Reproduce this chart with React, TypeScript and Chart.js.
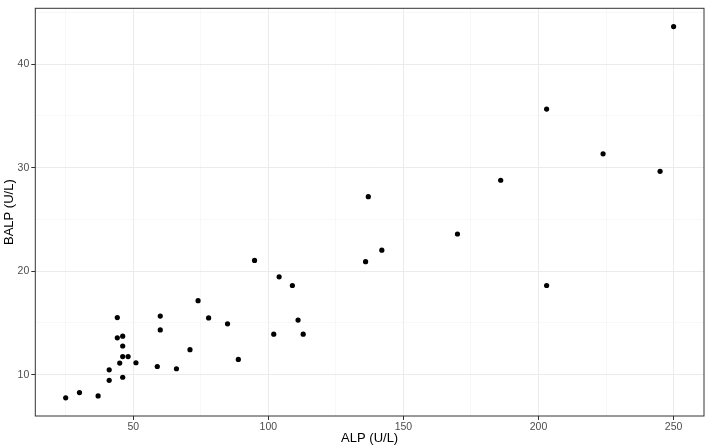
import React, { useEffect, useRef } from 'react';
import Chart from 'chart.js/auto';

const alp = [
  25.0, 30.1, 37.0, 41.1, 41.1, 44.1, 44.1, 46.1, 46.1, 46.1, 48.1, 45.0, 46.1, 51.0,
  58.9, 60.0, 60.0, 66.0, 71.0, 74.0, 77.9, 84.9, 88.9, 94.9, 104.0, 108.9, 111.0,
  102.0, 112.9, 137.0, 142.0, 136.0, 170.0, 250.0, 203.0, 223.9, 245.0, 186.0, 203.0,
];
const balp = [
  7.77, 8.28, 7.96, 10.48, 9.46, 15.52, 13.57, 13.73, 12.78, 11.76, 11.76, 11.13, 9.76, 11.16,
  10.8, 15.67, 14.33, 10.58, 12.42, 17.15, 15.49, 14.92, 11.48, 21.04, 19.46, 18.62, 15.28,
  13.92, 13.92, 27.19, 22.03, 20.92, 23.59, 43.62, 35.65, 31.33, 29.64, 28.78, 18.62,
];

const xMajor = [50, 100, 150, 200, 250];
const xMinor = [25, 75, 125, 175, 225];
const yMajor = [10, 20, 30, 40];
const yMinor = [15, 25, 35, 45];

const FONT = '"Liberation Sans", Arial, sans-serif';

const panelBorder = {
  id: 'panelBorder',
  beforeDatasetsDraw(chart: Chart) {
    const { ctx, chartArea } = chart;
    ctx.save();
    ctx.strokeStyle = '#333333';
    ctx.lineWidth = 1;
    ctx.strokeRect(chartArea.left, chartArea.top, chartArea.right - chartArea.left, chartArea.bottom - chartArea.top);
    ctx.restore();
  },
};

const gridOpts = (major: number[]) => ({
  color: (c: any) => (c.tick && major.includes(c.tick.value) ? '#ebebeb' : '#f3f3f3'),
  lineWidth: (c: any) => (c.tick && major.includes(c.tick.value) ? 1 : 0.6),
  tickColor: (c: any) => (c.tick && major.includes(c.tick.value) ? '#333333' : 'rgba(0,0,0,0)'),
  tickLength: 4,
});

const App: React.FC = () => {
  const chartRef = useRef<HTMLCanvasElement | null>(null);
  const chartInstance = useRef<Chart | null>(null);

  useEffect(() => {
    if (!chartRef.current) return;
    if (chartInstance.current) chartInstance.current.destroy();

    chartInstance.current = new Chart(chartRef.current, {
      type: 'scatter',
      data: {
        datasets: [
          {
            data: alp.map((x, i) => ({ x, y: balp[i] })),
            backgroundColor: '#000000',
            borderWidth: 0,
            pointRadius: 2.6,
          },
        ],
      },
      options: {
        animation: false,
        responsive: true,
        maintainAspectRatio: false,
        layout: { padding: { top: 4, right: 3.7, left: 0, bottom: 0 } },
        plugins: { legend: { display: false }, tooltip: { enabled: false } },
        scales: {
          x: {
            type: 'linear',
            min: 13.75,
            max: 261.25,
            afterBuildTicks: (s: any) => {
              s.ticks = [...xMinor, ...xMajor].sort((a, b) => a - b).map((v) => ({ value: v }));
            },
            afterFit: (s: any) => {
              s.height = 31;
            },
            border: { display: false },
            grid: gridOpts(xMajor),
            ticks: {
              autoSkip: false,
              maxRotation: 0,
              padding: 1,
              color: '#4d4d4d',
              font: { family: FONT, size: 10.5 },
              callback: (v: any) => (xMajor.includes(Number(v)) ? String(v) : ''),
            },
            title: {
              display: true,
              text: 'ALP (U/L)',
              color: '#000000',
              font: { family: FONT, size: 13 },
              padding: { top: 0, bottom: 1 },
            },
          },
          y: {
            type: 'linear',
            min: 6.02,
            max: 45.38,
            afterBuildTicks: (s: any) => {
              s.ticks = [...yMinor, ...yMajor].sort((a, b) => a - b).map((v) => ({ value: v }));
            },
            afterFit: (s: any) => {
              s.width = 35.3;
            },
            border: { display: false },
            grid: gridOpts(yMajor),
            ticks: {
              autoSkip: false,
              padding: 2,
              color: '#4d4d4d',
              font: { family: FONT, size: 10.5 },
              callback: (v: any) => (yMajor.includes(Number(v)) ? String(v) : ''),
            },
            title: {
              display: true,
              text: 'BALP (U/L)',
              color: '#000000',
              font: { family: FONT, size: 13 },
              padding: { top: 1.5, bottom: 0 },
            },
          },
        },
      },
      plugins: [panelBorder],
    });

    return () => {
      if (chartInstance.current) {
        chartInstance.current.destroy();
        chartInstance.current = null;
      }
    };
  }, []);

  return (
    <div style={{ position: 'absolute', left: 0, top: 0, width: 708, height: 447, background: '#ffffff' }}>
      <canvas ref={chartRef} />
    </div>
  );
};

export default App;
